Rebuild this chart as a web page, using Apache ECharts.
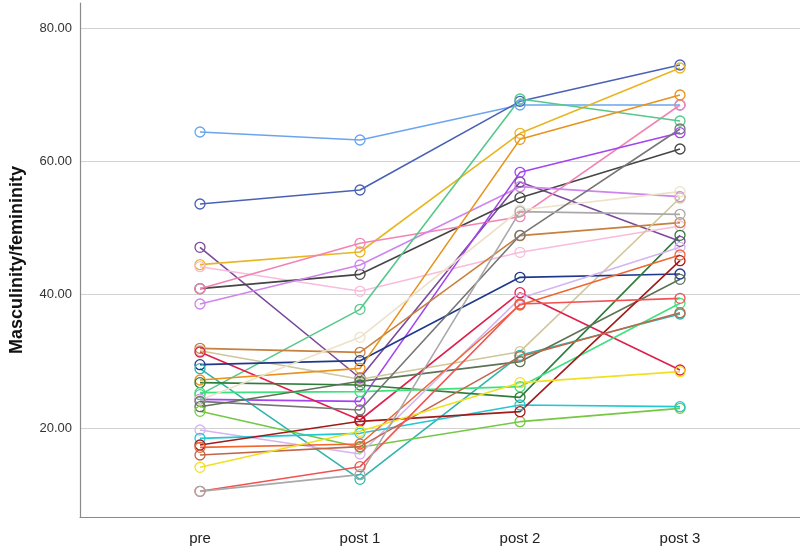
<!DOCTYPE html>
<html><head><meta charset="utf-8">
<script src="https://cdn.jsdelivr.net/npm/echarts@6/dist/echarts.min.js"></script>
<style>html,body{margin:0;padding:0;background:#fff}#c{width:800px;height:552px}</style>
</head><body><div id="c"></div>
<script>
const categories = ['pre', 'post 1', 'post 2', 'post 3'];
const yTicks = [20, 40, 60, 80];

const s01 = [64.4, 63.2, 68.45, 68.45];
const s02 = [53.6, 55.7, 69.0, 74.45];
const s03 = [47.1, 27.5, 56.9, 48.0];
const s04 = [44.5, 46.4, 64.2, 74.0];
const s05 = [44.2, 40.5, 46.35, 50.3];
const s06 = [40.9, 43.05, 54.55, 61.85];
const s07 = [40.9, 47.7, 51.7, 68.45];
const s08 = [38.6, 44.45, 56.2, 54.7];
const s09 = [24.3, 24.0, 58.35, 64.3];
const s10 = [25.0, 37.8, 69.35, 66.05];
const s11 = [31.95, 31.35, 48.85, 50.8];
const s12 = [31.6, 27.3, 31.45, 54.5];
const s13 = [31.4, 21.2, 40.3, 28.7];
const s14 = [29.5, 30.1, 42.6, 43.1];
const s15 = [28.9, 12.3, 30.9, 37.1];
const s16 = [27.2, 28.95, 63.3, 69.95];
const s17 = [26.8, 26.45, 24.6, 48.9];
const s18 = [25.3, 25.45, 26.2, 38.7];
const s19 = [24.2, 33.6, 52.7, 55.45];
const s20 = [24.0, 22.7, 48.9, 64.85];
const s21 = [23.2, 27.0, 29.95, 42.3];
const s22 = [22.5, 17.1, 20.95, 22.95];
const s23 = [19.7, 16.1, 39.45, 47.1];
const s24 = [18.45, 19.2, 23.45, 23.2];
const s25 = [17.45, 21.0, 22.45, 45.1];
const s26 = [17.1, 17.6, 38.45, 45.95];
const s27 = [15.95, 17.2, 30.7, 37.3];
const s28 = [14.1, 19.5, 26.8, 28.45];
const s29 = [10.5, 14.2, 38.6, 39.45];
const s30 = [10.5, 13.0, 52.45, 52.05];

const seriesValues = [s01,s02,s03,s04,s05,s06,s07,s08,s09,s10,s11,s12,s13,s14,s15,s16,s17,s18,s19,s20,s21,s22,s23,s24,s25,s26,s27,s28,s29,s30];
const seriesColors = ['#6aa6ee','#4a62b6','#7a4a9c','#e8b622','#f8bcdc','#454545','#f383b4','#cf84ee','#a443f0','#55c98a',
  '#c8803e','#cfc69a','#e0204c','#1f388a','#2fb5ac','#e8921c','#2f7d3a','#3fe07e','#ece2c8','#767676',
  '#5e7256','#74c845','#d4b4f2','#22c8d2','#a21a1a','#f26632','#c2664a','#f0e022','#f25252','#a9a9a9'];

const series = seriesValues.map((vals, i) => ({
  type: 'line',
  data: vals.map((v, j) => [j, v]),
  symbol: 'circle',
  symbolSize: 10,
  color: seriesColors[i],
  lineStyle: { width: 1.6, color: seriesColors[i] },
  itemStyle: { color: 'rgba(255,255,255,0)', borderWidth: 1.3, borderColor: seriesColors[i] },
  emphasis: { disabled: true },
  silent: true,
  animation: false
}));

const chart = echarts.init(document.getElementById('c'), null, { renderer: 'canvas' });
chart.setOption({
  backgroundColor: '#ffffff',
  animation: false,
  grid: { left: 80, right: 0, top: 3, bottom: 35 },
  xAxis: {
    type: 'value', min: -0.75, max: 3.75,
    axisLine: { show: true, onZero: false, lineStyle: { color: '#8a8a8a', width: 1.2 } },
    axisTick: { show: false, customValues: [0, 1, 2, 3] },
    splitLine: { show: false },
    axisLabel: {
      customValues: [0, 1, 2, 3],
      formatter: v => categories[Math.round(v)],
      color: '#222', fontSize: 15, fontFamily: 'Liberation Sans, Arial, sans-serif', margin: 14
    }
  },
  yAxis: {
    type: 'value', min: 6.65, max: 83.75,
    name: 'Masculinity/femininity', nameLocation: 'middle', nameGap: 54,
    nameTextStyle: { fontSize: 18, fontWeight: 'bold', color: '#111', fontFamily: 'Liberation Sans, Arial, sans-serif' },
    axisLine: { show: true, onZero: false, lineStyle: { color: '#8a8a8a', width: 1.2 } },
    axisTick: { show: false, customValues: yTicks },
    splitLine: { show: true, lineStyle: { color: '#d2d2d2', width: 1.2 } },
    axisLabel: {
      customValues: yTicks,
      formatter: v => v.toFixed(2),
      color: '#333', fontSize: 13, fontFamily: 'Liberation Sans, Arial, sans-serif', margin: 8
    }
  },
  series: series
});
</script>
</body></html>
